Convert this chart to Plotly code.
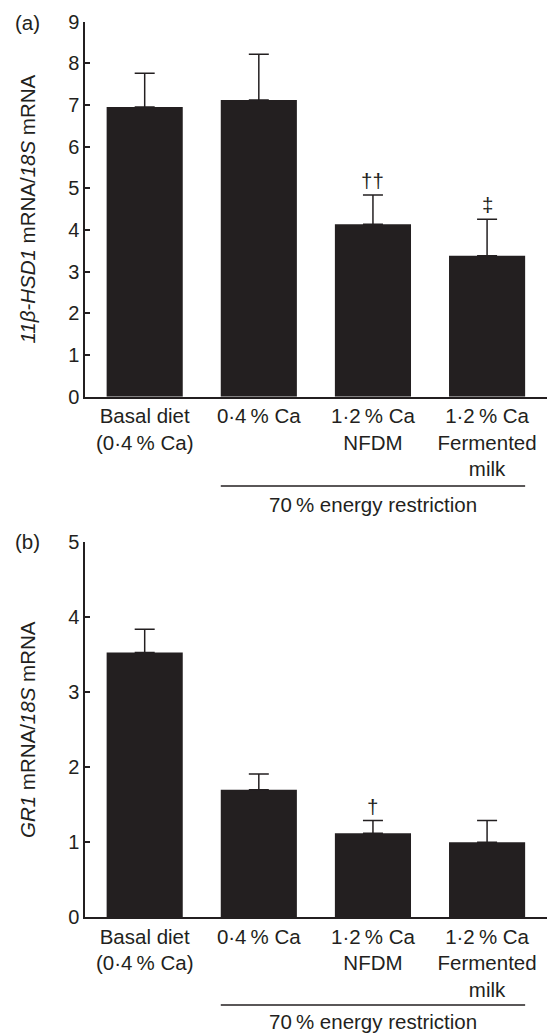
import plotly.graph_objects as go

categories = ["Basal diet<br>(0·4\u2009% Ca)", "0·4\u2009% Ca", "1·2\u2009% Ca<br>NFDM", "1·2\u2009% Ca<br>Fermented<br>milk"]
hsd_mean = [6.95, 7.12, 4.14, 3.38]
hsd_err = [0.81, 1.10, 0.70, 0.88]
hsd_marks = ["", "", "††", "‡"]
gr_mean = [3.53, 1.70, 1.12, 1.00]
gr_err = [0.31, 0.21, 0.17, 0.29]
gr_marks = ["", "", "†", ""]
hsd_ticks = list(range(0, 10))
gr_ticks = list(range(0, 6))

INK = "#231f20"
FONT = "Liberation Sans, Arial, sans-serif"
FS = 20.5
W, H = 547, 1034
xpos = list(range(len(categories)))

fig = go.Figure()

panels = [
    dict(mean=hsd_mean, err=hsd_err, marks=hsd_marks, ticks=hsd_ticks, rng=[0, 9],
         dom=[1 - 396.7 / H, 1 - 21.7 / H], xa="x", ya="y", label="(a)", label_px=22,
         title="<i>11β-HSD1</i> mRNA/<i>18S</i> mRNA", line_px=486, text_px=505),
    dict(mean=gr_mean, err=gr_err, marks=gr_marks, ticks=gr_ticks, rng=[0, 5],
         dom=[1 - 917.3 / H, 1 - 542.3 / H], xa="x2", ya="y2", label="(b)", label_px=541.7,
         title="<i>GR1</i> mRNA/<i>18S</i> mRNA", line_px=1005, text_px=None),
]

annotations = []
shapes = []
for i, p in enumerate(panels):
    fig.add_trace(go.Bar(
        x=xpos, y=p["mean"], xaxis=p["xa"], yaxis=p["ya"],
        marker=dict(color=INK, line=dict(width=0)),
        error_y=dict(type="data", array=p["err"], arrayminus=[0] * len(p["err"]),
                     symmetric=False, color=INK, thickness=1.5, width=10),
        showlegend=False, hoverinfo="skip",
    ))
    for xi, (m, e, s) in enumerate(zip(p["mean"], p["err"], p["marks"])):
        if s:
            annotations.append(dict(x=xi, y=m + e, xref=p["xa"], yref=p["ya"], text=s,
                                    showarrow=False, yanchor="bottom", yshift=1,
                                    font=dict(size=FS, color=INK, family=FONT)))
    annotations.append(dict(x=(27 - 85) / 462, y=1 - p["label_px"] / H,
                            xref="paper", yref="paper", text=p["label"], showarrow=False,
                            xanchor="center", yanchor="middle",
                            font=dict(size=FS, color=INK, family=FONT)))
    if p["text_px"] is not None:
        annotations.append(dict(x=2, y=1 - p["text_px"] / H, xref=p["xa"], yref="paper",
                                text="70\u2009% energy restriction", showarrow=False,
                                xanchor="center", yanchor="middle",
                                font=dict(size=FS, color=INK, family=FONT)))
    else:
        annotations.append(dict(x=2, y=0, xref=p["xa"], yref="paper",
                                text="70\u2009% energy restriction", showarrow=False,
                                xanchor="center", yanchor="bottom", borderpad=0,
                                font=dict(size=FS, color=INK, family=FONT)))
    shapes.append(dict(type="line", xref=p["xa"], yref="paper",
                       x0=1 - 1/3, x1=3 + 1/3, y0=1 - p["line_px"] / H, y1=1 - p["line_px"] / H,
                       line=dict(color=INK, width=1.5)))

common_x = dict(range=[-0.523, 3.525], tickmode="array", tickvals=xpos, ticktext=categories,
                showline=True, linecolor=INK, linewidth=1.5, ticks="", showgrid=False,
                zeroline=False, automargin=False,
                tickfont=dict(size=FS, color=INK, family=FONT), fixedrange=True)

def yax(p, anchor):
    return dict(domain=p["dom"], anchor=anchor, range=p["rng"], tickmode="array",
                tickvals=p["ticks"], ticks="inside", ticklen=5, tickwidth=1.5, tickcolor=INK,
                showline=True, linecolor=INK, linewidth=1.5, showgrid=False, zeroline=False,
                automargin=False, tickfont=dict(size=20, color=INK, family=FONT),
                title=dict(text=p["title"], font=dict(size=FS, color=INK, family=FONT), standoff=27))

fig.update_layout(
    width=W, height=H,
    margin=dict(l=85, r=0, t=0, b=0, autoexpand=False),
    paper_bgcolor="white", plot_bgcolor="white",
    bargap=0.333,
    font=dict(family=FONT, color=INK, size=FS),
    xaxis=dict(domain=[0, 1], anchor="y", **common_x),
    xaxis2=dict(domain=[0, 1], anchor="y2", **common_x),
    yaxis=yax(panels[0], "x"),
    yaxis2=yax(panels[1], "x2"),
    annotations=annotations,
    shapes=shapes,
)

fig.write_html("out.html")
